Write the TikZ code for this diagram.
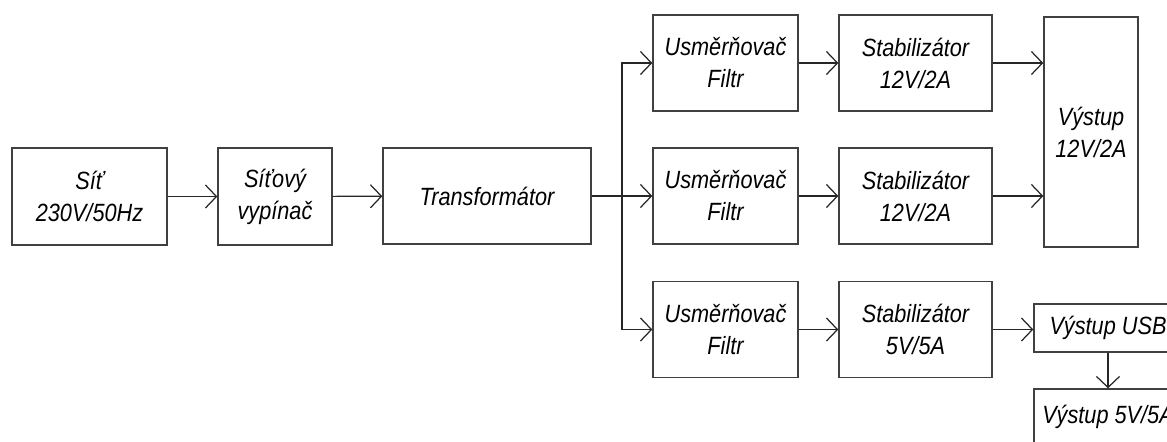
\documentclass[tikz,border=0pt]{standalone}
\usepackage{fontspec}
\setmainfont{Liberation Sans}[FakeStretch=0.87]
\usetikzlibrary{arrows.meta, positioning, calc}

\begin{document}
\begin{tikzpicture}[
  x=0.02cm, y=-0.02cm,
  blok/.style={draw=black!75, line width=0.8pt, align=center, inner sep=2pt,
    font=\fontsize{14.2}{18.2}\selectfont\itshape},
  arr/.style={-{Straight Barb[length=0.22cm, width=0.46cm]}, line width=0.7pt, black!85}
]

%% ===== rozmery obrazku =====
\useasboundingbox (0,0) rectangle (1167,441);
\clip (0,0) rectangle (1167,441);

%% ===== vstupni cast =====
\node[blok, minimum width=3.1cm, minimum height=1.94cm] (sit) at (89.5,196.5)
  {Síť\\230V/50Hz};
\node[blok, minimum width=2.28cm, minimum height=1.94cm] (vypinac) at (275,196.5)
  {Síťový\\vypínač};
\node[blok, minimum width=4.16cm, minimum height=1.92cm] (trafo) at (487,196)
  {Transformátor};

%% ===== usmernovace a stabilizatory =====
\node[blok, minimum width=2.9cm, minimum height=1.92cm] (usm1) at (725.5,63)
  {Usměrňovač\\Filtr};
\node[blok, minimum width=2.9cm, minimum height=1.92cm] (usm2) at (725.5,196)
  {Usměrňovač\\Filtr};
\node[blok, minimum width=2.9cm, minimum height=1.92cm] (usm3) at (725.5,329.5)
  {Usměrňovač\\Filtr};

\node[blok, minimum width=3.06cm, minimum height=1.92cm] (stab1) at (915.5,63)
  {Stabilizátor\\12V/2A};
\node[blok, minimum width=3.06cm, minimum height=1.92cm] (stab2) at (915.5,196)
  {Stabilizátor\\12V/2A};
\node[blok, minimum width=3.06cm, minimum height=1.92cm] (stab3) at (915.5,329.5)
  {Stabilizátor\\5V/5A};

%% ===== vystupy =====
\node[blok, minimum width=1.88cm, minimum height=4.6cm] (vyst12) at (1091,132)
  {Výstup\\12V/2A};
\node[blok, minimum width=2.96cm, minimum height=0.96cm] (usb) at (1108,328)
  {Výstup USB};
\node[blok, minimum width=2.96cm, minimum height=1.12cm] (vyst5) at (1108,417)
  {Výstup 5V/5A};

%% ===== spoje =====
\draw[arr] (sit) -- (vypinac);
\draw[arr] (vypinac) -- (trafo);
\coordinate (rozb) at (622,196);
\draw[line width=0.7pt, black!85] (trafo.east) -- (rozb);
\draw[arr] (rozb) |- (usm1.west);
\draw[arr] (rozb) -- (usm2.west);
\draw[arr] (rozb) |- (usm3.west);

\draw[arr] (usm1) -- (stab1);
\draw[arr] (usm2) -- (stab2);
\draw[arr] (usm3) -- (stab3);

\draw[arr] (stab1.east) -- (stab1.east -| vyst12.west);
\draw[arr] (stab2.east) -- (stab2.east -| vyst12.west);
\draw[arr] (stab3.east) -- (stab3.east -| usb.west);
\draw[arr] (usb) -- (vyst5);

\end{tikzpicture}
\end{document}
